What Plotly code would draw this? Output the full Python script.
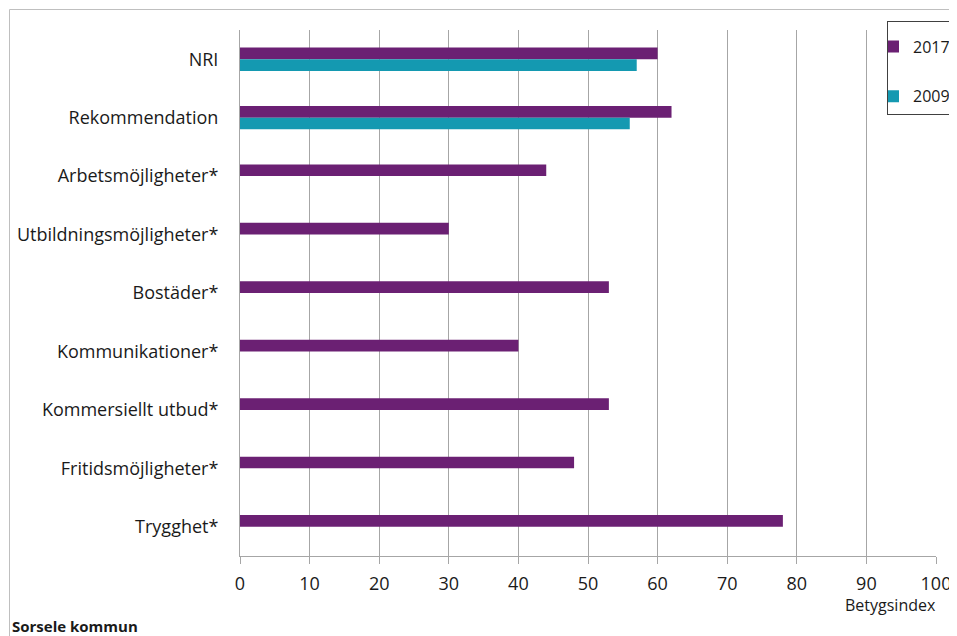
import plotly.graph_objects as go

categories = ["NRI", "Rekommendation", "Arbetsmöjligheter*", "Utbildningsmöjligheter*",
              "Bostäder*", "Kommunikationer*", "Kommersiellt utbud*",
              "Fritidsmöjligheter*", "Trygghet*"]
values_2017 = [60, 62, 44, 30, 53, 40, 53, 48, 78]
values_2009 = [57, 56, None, None, None, None, None, None, None]
x_ticks = [0, 10, 20, 30, 40, 50, 60, 70, 80, 90, 100]

PURPLE = "#6b2073"
TEAL = "#1499b1"
FONT = "Open Sans"
TXT = "#1a1a1a"
FS = 18

OFF = 8  # page body margin
W, H = 957 - OFF, 636 - OFF
L, T = 240 - OFF, 30 - OFF
R = W - (936 - OFF)
B = H - (556 - OFF)
pw, ph = W - L - R, H - T - B

def px(x):
    return (x - OFF - L) / pw

def py(y):
    return (H - B - (y - OFF)) / ph

fig = go.Figure()
fig.add_trace(go.Bar(y=categories, x=values_2017, name="2017", orientation="h",
                     marker=dict(color=PURPLE, line=dict(width=0)),
                     legendgroup="a"))
fig.add_trace(go.Bar(y=categories, x=values_2009, name="2009", orientation="h",
                     marker=dict(color=TEAL, line=dict(width=0)),
                     legendgroup="b"))

fig.update_layout(
    width=W, height=H,
    margin=dict(l=L, r=R, t=T, b=B, autoexpand=False),
    paper_bgcolor="white", plot_bgcolor="white",
    barmode="group", bargap=0.6, bargroupgap=0,
    font=dict(family=FONT, size=FS, color=TXT),
    showlegend=True,
    legend=dict(x=px(887), y=py(20.7), xanchor="left", yanchor="top",
                bordercolor="#404040", borderwidth=1, bgcolor="white",
                font=dict(family=FONT, size=16, color=TXT),
                title=dict(text=" ", font=dict(size=6)),
                tracegroupgap=26, indentation=-15, itemwidth=30),
    xaxis=dict(range=[0, 100], tickvals=x_ticks, showgrid=True, gridcolor="#a6a6a6",
               gridwidth=1, showline=True, linecolor="#a6a6a6", linewidth=1,
               ticks="outside", ticklen=7, tickcolor="#a6a6a6",
               ticklabelstandoff=4, zeroline=False,
               tickfont=dict(family=FONT, size=FS, color=TXT)),
    yaxis=dict(autorange="reversed", showline=True, linecolor="#a6a6a6", linewidth=1,
               showgrid=False, ticks="", ticklabelstandoff=17,
               tickfont=dict(family=FONT, size=FS, color=TXT)),
    shapes=[dict(type="rect", xref="paper", yref="paper",
                 x0=px(9.5), x1=px(965), y0=py(645), y1=py(9.5),
                 line=dict(color="#bfbfbf", width=1), fillcolor="rgba(0,0,0,0)",
                 layer="below")],
    annotations=[
        dict(text="Betygsindex", xref="paper", yref="paper", x=px(938), y=py(605),
             xanchor="right", yanchor="middle", showarrow=False,
             font=dict(family=FONT, size=16, color=TXT)),
        dict(text="<b>Sorsele kommun</b>", xref="paper", yref="paper", x=px(10), y=py(626),
             xanchor="left", yanchor="middle", showarrow=False,
             font=dict(family=FONT, size=15, color=TXT)),
    ],
)

fig.write_html("out.html")
